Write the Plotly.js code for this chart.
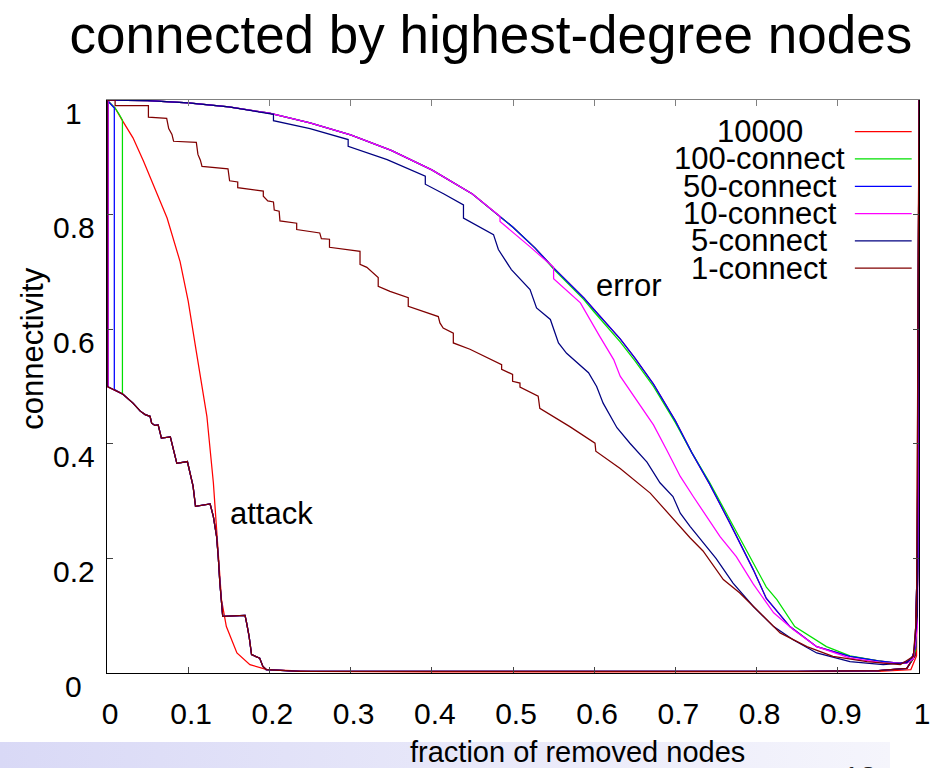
<!DOCTYPE html>
<html>
<head>
<meta charset="utf-8">
<script src="https://cdn.plot.ly/plotly-3.0.1.min.js"></script>
<style>
  html, body { margin: 0; padding: 0; background: #ffffff; }
  #band { position: absolute; left: 0; top: 742px; width: 890px; height: 26px;
          background: linear-gradient(to right, #d9d9f6, #f5f5fc); z-index: 0; }
  #chart { position: absolute; left: 0; top: 0; width: 935px; height: 768px; z-index: 1; }
</style>
</head>
<body>
<div id="band"></div>
<div id="chart"></div>
<script>
// ---------------- data ----------------
const titleText = "connected by highest-degree nodes";
const xTitle = "fraction of removed nodes";
const yTitle = "connectivity";
const seriesNames = ["10000", "100-connect", "50-connect", "10-connect", "5-connect", "1-connect"];
const seriesColors = ["#ff0000", "#00e000", "#0000ff", "#ff00ff", "#000080", "#800000"];
const xTickVals = [0, 0.1, 0.2, 0.3, 0.4, 0.5, 0.6, 0.7, 0.8, 0.9, 1];
const xTickText = ["0", "0.1", "0.2", "0.3", "0.4", "0.5", "0.6", "0.7", "0.8", "0.9", "1"];
const yTickVals = [0, 0.2, 0.4, 0.6, 0.8, 1];
const yTickText = ["0", "0.2", "0.4", "0.6", "0.8", "1"];
const curveLabels = ["error", "attack"];
const curveLabelX = [0.642, 0.202];
const curveLabelY = [0.676, 0.278];
const pageNumber = "12";

// error (random failure) curves
const err50X = [0, 0.05, 0.1, 0.15, 0.2, 0.25, 0.3, 0.35, 0.4, 0.45, 0.5, 0.527, 0.55, 0.587, 0.6, 0.632, 0.65, 0.673, 0.7, 0.72, 0.742, 0.767, 0.796, 0.812, 0.841, 0.874, 0.915, 0.95, 0.977, 0.99, 0.996, 0.999, 1];
const err50Y = [1, 0.999, 0.995, 0.988, 0.977, 0.96, 0.939, 0.912, 0.878, 0.836, 0.778, 0.742, 0.707, 0.655, 0.634, 0.583, 0.55, 0.504, 0.44, 0.385, 0.33, 0.262, 0.18, 0.13, 0.081, 0.046, 0.029, 0.021, 0.017, 0.022, 0.045, 0.2, 1];

const err10000X = [0, 0.05, 0.1, 0.15, 0.2, 0.25, 0.3, 0.35, 0.4, 0.45, 0.5, 0.527, 0.55, 0.587, 0.6, 0.632, 0.65, 0.673, 0.7, 0.72, 0.742, 0.767, 0.796, 0.812, 0.841, 0.874, 0.915, 0.95, 0.977, 0.99, 0.996, 0.999, 1];
const err10000Y = [1, 0.999, 0.995, 0.988, 0.977, 0.96, 0.939, 0.912, 0.878, 0.836, 0.778, 0.742, 0.707, 0.655, 0.634, 0.583, 0.55, 0.504, 0.44, 0.385, 0.33, 0.262, 0.18, 0.13, 0.081, 0.046, 0.029, 0.021, 0.017, 0.022, 0.045, 0.2, 1];

const err100X = [0, 0.05, 0.1, 0.15, 0.2, 0.25, 0.3, 0.35, 0.4, 0.45, 0.5, 0.527, 0.55, 0.587, 0.6, 0.632, 0.65, 0.673, 0.7, 0.72, 0.742, 0.767, 0.796, 0.812, 0.825, 0.847, 0.886, 0.915, 0.95, 0.977, 0.99, 0.996, 0.999, 1];
const err100Y = [1, 0.999, 0.995, 0.988, 0.977, 0.96, 0.939, 0.912, 0.878, 0.836, 0.778, 0.742, 0.705, 0.652, 0.63, 0.578, 0.545, 0.5, 0.437, 0.385, 0.333, 0.268, 0.19, 0.15, 0.128, 0.081, 0.046, 0.03, 0.021, 0.016, 0.02, 0.04, 0.2, 1];

const err10X = [0, 0.05, 0.1, 0.15, 0.2, 0.25, 0.3, 0.35, 0.4, 0.45, 0.484, 0.484, 0.52, 0.55, 0.55, 0.583, 0.607, 0.624, 0.632, 0.652, 0.673, 0.689, 0.706, 0.722, 0.738, 0.755, 0.775, 0.796, 0.821, 0.845, 0.874, 0.915, 0.956, 0.985, 0.993, 0.998, 0.9995, 1];
const err10Y = [1, 0.999, 0.995, 0.988, 0.977, 0.96, 0.939, 0.912, 0.878, 0.836, 0.797, 0.788, 0.745, 0.708, 0.688, 0.646, 0.587, 0.547, 0.518, 0.477, 0.433, 0.39, 0.343, 0.308, 0.273, 0.238, 0.203, 0.155, 0.105, 0.076, 0.046, 0.026, 0.0175, 0.017, 0.025, 0.08, 0.4, 1];

const err5X = [0, 0.05, 0.1, 0.15, 0.205, 0.205, 0.25, 0.297, 0.297, 0.345, 0.392, 0.392, 0.415, 0.439, 0.439, 0.476, 0.482, 0.498, 0.521, 0.529, 0.546, 0.556, 0.566, 0.593, 0.603, 0.611, 0.628, 0.644, 0.665, 0.681, 0.697, 0.706, 0.718, 0.734, 0.75, 0.771, 0.796, 0.821, 0.845, 0.874, 0.915, 0.956, 0.985, 0.993, 0.998, 1];
const err5Y = [1, 0.999, 0.995, 0.988, 0.975, 0.964, 0.95, 0.931, 0.919, 0.896, 0.867, 0.853, 0.836, 0.817, 0.794, 0.765, 0.739, 0.704, 0.669, 0.637, 0.617, 0.576, 0.558, 0.524, 0.5, 0.471, 0.428, 0.401, 0.368, 0.332, 0.308, 0.279, 0.256, 0.227, 0.2, 0.157, 0.116, 0.081, 0.058, 0.035, 0.02, 0.0145, 0.018, 0.03, 0.1, 1];

const err1X = [0, 0.01, 0.01, 0.051, 0.051, 0.0735, 0.076, 0.08, 0.082, 0.11, 0.112, 0.115, 0.117, 0.149, 0.151, 0.161, 0.161, 0.1925, 0.1925, 0.198, 0.205, 0.206, 0.212, 0.213, 0.2336, 0.2336, 0.262, 0.264, 0.274, 0.274, 0.3116, 0.3116, 0.32, 0.328, 0.334, 0.334, 0.3485, 0.371, 0.371, 0.408, 0.41, 0.414, 0.4265, 0.4265, 0.447, 0.486, 0.486, 0.4995, 0.4995, 0.5086, 0.5086, 0.531, 0.533, 0.57, 0.601, 0.602, 0.632, 0.669, 0.702, 0.718, 0.734, 0.75, 0.759, 0.779, 0.804, 0.829, 0.862, 0.894, 0.936, 0.977, 0.993, 0.997, 1];
const err1Y = [1, 1, 0.99, 0.99, 0.97, 0.968, 0.95, 0.94, 0.928, 0.926, 0.905, 0.895, 0.884, 0.88, 0.859, 0.857, 0.847, 0.841, 0.832, 0.824, 0.822, 0.808, 0.806, 0.789, 0.785, 0.774, 0.768, 0.758, 0.757, 0.743, 0.736, 0.713, 0.708, 0.698, 0.69, 0.675, 0.666, 0.655, 0.64, 0.622, 0.611, 0.602, 0.593, 0.576, 0.565, 0.538, 0.53, 0.521, 0.509, 0.506, 0.499, 0.483, 0.462, 0.43, 0.401, 0.387, 0.357, 0.314, 0.262, 0.236, 0.213, 0.18, 0.163, 0.14, 0.105, 0.07, 0.046, 0.029, 0.02, 0.0145, 0.029, 0.1, 1];

// attack (highest-degree removal) curves
const att10000X = [0, 0.0099, 0.019, 0.032, 0.045, 0.061, 0.074, 0.09, 0.1, 0.11, 0.123, 0.131, 0.137, 0.141, 0.147, 0.16, 0.176, 0.197, 0.25, 0.4, 0.6, 0.8, 0.95, 0.99, 0.997, 1];
const att10000Y = [1, 0.986, 0.964, 0.934, 0.893, 0.84, 0.794, 0.718, 0.649, 0.561, 0.448, 0.332, 0.215, 0.128, 0.081, 0.035, 0.0145, 0.006, 0.003, 0.002, 0.002, 0.002, 0.003, 0.006, 0.03, 1];

// shared staircase followed by all n-connect networks under attack
const attStairX = [0.02, 0.032, 0.041, 0.047, 0.053, 0.055, 0.059, 0.063, 0.067, 0.078, 0.081, 0.086, 0.099, 0.102, 0.106, 0.109, 0.127, 0.131, 0.135, 0.137, 0.139, 0.1425, 0.17, 0.172, 0.175, 0.178, 0.188, 0.192, 0.196, 0.238, 0.4, 0.55, 0.7, 0.85, 0.95, 0.985, 0.995, 0.998, 1];
const attStairY = [0.486, 0.471, 0.457, 0.451, 0.448, 0.436, 0.432, 0.433, 0.41, 0.412, 0.395, 0.366, 0.369, 0.349, 0.326, 0.291, 0.295, 0.273, 0.238, 0.203, 0.157, 0.099, 0.1005, 0.087, 0.064, 0.032, 0.026, 0.0115, 0.006, 0.003, 0.003, 0.002, 0.003, 0.003, 0.004, 0.008, 0.03, 0.2, 1];
// start of each n-connect attack curve before it falls onto the staircase
const att100HeadX = [0, 0.005, 0.0099, 0.015, 0.019, 0.019];
const att100HeadY = [1, 0.993, 0.986, 0.975, 0.965, 0.488];
const att50HeadX = [0, 0.005, 0.009, 0.009, 0.018];
const att50HeadY = [1, 0.993, 0.986, 0.495, 0.488];
const att10HeadX = [0, 0.0016, 0.0016, 0.018];
const att10HeadY = [1, 0.997, 0.499, 0.488];
const att5HeadX = [0, 0.0008, 0.0008, 0.018];
const att5HeadY = [1, 0.998, 0.5, 0.488];
const att1HeadX = [0, 0, 0.018];
const att1HeadY = [1, 0.5, 0.488];

// ---------------- build ----------------
const FONT = "Liberation Sans, Arial, sans-serif";
const LW = 1.25;

const errX = [err10000X, err100X, err50X, err10X, err5X, err1X];
const errY = [err10000Y, err100Y, err50Y, err10Y, err5Y, err1Y];
const attX = [att10000X, att100HeadX.concat(attStairX), att50HeadX.concat(attStairX), att10HeadX.concat(attStairX), att5HeadX.concat(attStairX), att1HeadX.concat(attStairX)];
const attY = [att10000Y, att100HeadY.concat(attStairY), att50HeadY.concat(attStairY), att10HeadY.concat(attStairY), att5HeadY.concat(attStairY), att1HeadY.concat(attStairY)];

const traces = [];
for (let i = 0; i < seriesNames.length; i++) {
  traces.push({ x: attX[i], y: attY[i], type: "scatter", mode: "lines", name: seriesNames[i],
    line: { color: seriesColors[i], width: LW }, showlegend: false, hoverinfo: "skip" });
}
for (let i = 0; i < seriesNames.length; i++) {
  traces.push({ x: errX[i], y: errY[i], type: "scatter", mode: "lines", name: seriesNames[i],
    line: { color: seriesColors[i], width: LW }, showlegend: false, hoverinfo: "skip" });
}
// invisible trace so that the top mirror axis renders
traces.push({ x: [0, 1], y: [0, 0], xaxis: "x2", type: "scatter", mode: "lines",
  line: { width: 0 }, showlegend: false, hoverinfo: "skip" });

const annotations = [];
const shapes = [];
// y tick labels (centred, like the original)
for (let i = 0; i < yTickVals.length; i++) {
  annotations.push({ text: yTickText[i], xref: "paper", x: 0, xshift: -33.5, xanchor: "center",
    yref: "y", y: yTickVals[i], yshift: -13, yanchor: "middle", showarrow: false,
    font: { family: FONT, size: 30, color: "#000" } });
}
// curve labels
for (let i = 0; i < curveLabels.length; i++) {
  annotations.push({ text: curveLabels[i], xref: "x", yref: "y", x: curveLabelX[i], y: curveLabelY[i],
    xanchor: "center", yanchor: "middle", showarrow: false, font: { family: FONT, size: 31, color: "#000" } });
}
// axis titles
annotations.push({ text: yTitle, textangle: -90, xref: "paper", x: 0, xshift: -74.5, xanchor: "center",
  yref: "paper", y: 0.565, yanchor: "middle", showarrow: false, font: { family: FONT, size: 31, color: "#000" } });
annotations.push({ text: xTitle, xref: "paper", x: 0.58, xanchor: "center",
  yref: "paper", y: -0.137, yanchor: "middle", showarrow: false, font: { family: FONT, size: 29, color: "#000" } });
// partially visible page number
annotations.push({ text: pageNumber, xref: "paper", x: 0.927, xanchor: "center",
  yref: "paper", y: -0.148, yanchor: "top", showarrow: false, font: { family: FONT, size: 30, color: "#222" } });

// custom legend: centred text, line sample on the right
const legTop = 131.7, legStep = 27.3, plotTop = 100, plotH = 573.3;
for (let i = 0; i < seriesNames.length; i++) {
  const yp = 1 - (legTop + legStep * i - plotTop) / plotH;
  annotations.push({ text: seriesNames[i], xref: "paper", x: 0.804, xanchor: "center",
    yref: "paper", y: yp, yanchor: "middle", showarrow: false, font: { family: FONT, size: 31, color: "#000" } });
  shapes.push({ type: "line", xref: "paper", yref: "paper", x0: 0.921, x1: 0.991, y0: yp, y1: yp,
    line: { color: seriesColors[i], width: LW } });
}

const layout = {
  width: 935, height: 768,
  margin: { l: 107, r: 16, t: 100, b: 94.7 },
  paper_bgcolor: "rgba(0,0,0,0)", plot_bgcolor: "#ffffff",
  showlegend: false,
  title: { text: titleText, font: { family: FONT, size: 53, color: "#000" },
    xref: "container", x: 0.525, xanchor: "center", yref: "container", y: 0.955, yanchor: "middle" },
  xaxis: { range: [0, 1], tickvals: xTickVals, ticktext: xTickText, ticks: "inside", ticklen: 6,
    tickcolor: "#444", showline: true, linecolor: "#000", linewidth: 1.2, showgrid: false, zeroline: false,
    tickfont: { family: FONT, size: 30, color: "#000" }, ticklabelstandoff: 14, ticklabelshift: 3 },
  xaxis2: { overlaying: "x", side: "top", anchor: "y", range: [0, 1], tickvals: xTickVals, ticks: "inside", ticklen: 6,
    tickcolor: "#808080", showline: true, linecolor: "#808080", linewidth: 1.5, showgrid: false, zeroline: false,
    showticklabels: false },
  yaxis: { range: [0, 1], tickvals: yTickVals, ticks: "inside", ticklen: 6, tickcolor: "#444",
    showline: true, linecolor: "#000", linewidth: 1.2, mirror: "ticks", showgrid: false, zeroline: false,
    showticklabels: false },
  annotations: annotations,
  shapes: shapes
};

Plotly.newPlot("chart", traces, layout, { displayModeBar: false, staticPlot: true });
</script>
</body>
</html>
